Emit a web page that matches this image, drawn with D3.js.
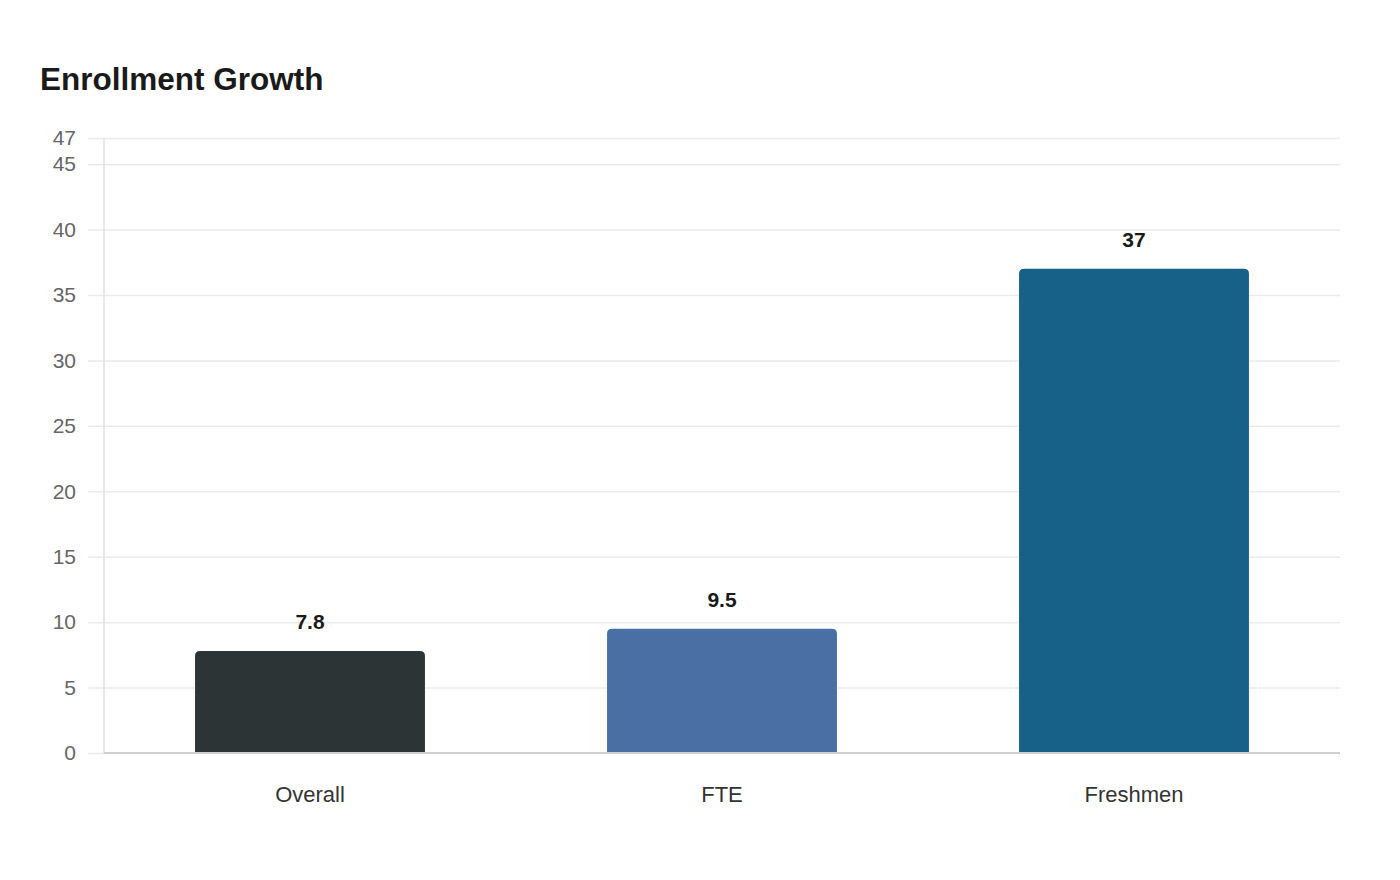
<!DOCTYPE html>
<html>
<head>
<meta charset="utf-8">
<script src="https://cdn.jsdelivr.net/npm/d3@7"></script>
<style>
  body { margin: 0; background: #fff; font-family: "Liberation Sans", Arial, sans-serif; }
</style>
</head>
<body>
<div id="chart"></div>
<script>
// Data
const categories = ['Overall', 'FTE', 'Freshmen'];
const values = [7.8, 9.5, 37];
const barColors = ['#2d3436', '#4a6fa5', '#176087'];
const yTicks = [0, 5, 10, 15, 20, 25, 30, 35, 40, 45, 47];

const width = 1400, height = 880;
const margin = { top: 138, right: 60, bottom: 127, left: 104 };
const innerW = width - margin.left - margin.right;
const innerH = height - margin.top - margin.bottom;

const svg = d3.select('#chart').append('svg')
  .attr('width', width)
  .attr('height', height);

svg.append('text')
  .attr('x', 40)
  .attr('y', 90)
  .attr('font-size', 31.5)
  .attr('font-weight', 'bold')
  .attr('fill', '#1a1a1a')
  .text('Enrollment Growth');

const g = svg.append('g').attr('transform', `translate(${margin.left},${margin.top})`);

const x = d3.scaleBand()
  .domain(categories)
  .range([0, innerW])
  .paddingInner(0.442)
  .paddingOuter(0.221);

const y = d3.scaleLinear().domain([0, 47]).range([innerH, 0]);

// gridlines + y labels
const yAxis = g.append('g')
  .attr('transform', 'translate(-16,0)')
  .call(d3.axisLeft(y).tickValues(yTicks).tickSize(-innerW - 16).tickPadding(12));
yAxis.select('.domain').remove();
yAxis.selectAll('line').attr('stroke', '#ebebeb').attr('stroke-width', 1.5);
yAxis.selectAll('text')
  .attr('font-size', 21)
  .attr('fill', '#666')
  .attr('font-family', '"Liberation Sans", Arial, sans-serif');

// y axis line
g.append('line')
  .attr('x1', 0).attr('x2', 0)
  .attr('y1', 0).attr('y2', innerH)
  .attr('stroke', '#e0e0e0').attr('stroke-width', 1.5);

// bars with rounded top corners
const r = 5;
function barPath(d, i) {
  const x0 = x(categories[i]), w = x.bandwidth();
  const y0 = y(d), y1 = y(0);
  return `M${x0},${y1}V${y0 + r}Q${x0},${y0} ${x0 + r},${y0}H${x0 + w - r}Q${x0 + w},${y0} ${x0 + w},${y0 + r}V${y1}Z`;
}

g.selectAll('.bar')
  .data(values)
  .enter().append('path')
  .attr('class', 'bar')
  .attr('d', barPath)
  .attr('fill', (d, i) => barColors[i]);

// value labels
g.selectAll('.val')
  .data(values)
  .enter().append('text')
  .attr('x', (d, i) => x(categories[i]) + x.bandwidth() / 2)
  .attr('y', d => y(d) - 22)
  .attr('text-anchor', 'middle')
  .attr('font-size', 21)
  .attr('font-weight', 'bold')
  .attr('fill', '#1a1a1a')
  .text(d => d);

// x axis
g.append('line')
  .attr('x1', 0).attr('x2', innerW)
  .attr('y1', innerH).attr('y2', innerH)
  .attr('stroke', '#d0d0d0').attr('stroke-width', 2);

g.selectAll('.xlab')
  .data(categories)
  .enter().append('text')
  .attr('x', d => x(d) + x.bandwidth() / 2)
  .attr('y', innerH + 49)
  .attr('text-anchor', 'middle')
  .attr('font-size', 22)
  .attr('fill', '#333')
  .text(d => d);
</script>
</body>
</html>
